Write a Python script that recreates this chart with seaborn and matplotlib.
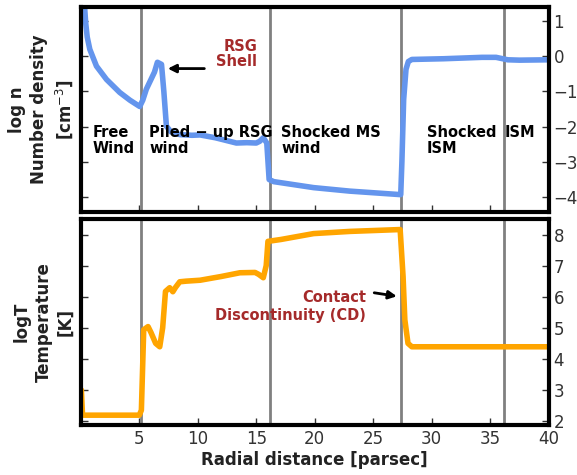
import matplotlib
matplotlib.use("Agg")
import matplotlib.pyplot as plt
import seaborn as sns
import pandas as pd

# Number density (log n) profile
dens_r = [0.2, 0.34, 0.42, 0.55, 0.77, 1.34, 2.2, 3.33, 4.2, 5.04, 5.3, 5.6, 6.0, 6.3, 6.55, 6.9,
          7.1, 7.32, 7.7, 8.46, 9.5, 10.2, 11.5, 13.3, 14.2, 15.0, 15.3, 15.6, 15.9, 16.1, 16.5,
          17.1, 19.9, 23.0, 27.35, 27.45, 27.6, 27.8, 28.0, 28.3, 31.0, 34.3, 35.5, 36.5, 37.5, 40.0]
dens_v = [1.6, 1.34, 0.95, 0.55, 0.2, -0.28, -0.66, -1.03, -1.25, -1.43, -1.25, -0.94, -0.66,
          -0.45, -0.17, -0.23, -1.0, -1.99, -2.15, -2.23, -2.25, -2.24, -2.32, -2.47, -2.46, -2.47,
          -2.42, -2.32, -2.47, -3.51, -3.57, -3.6, -3.74, -3.84, -3.94, -3.0, -1.23, -0.37, -0.15,
          -0.09, -0.07, -0.03, -0.03, -0.1, -0.11, -0.1]

# Temperature (log T) profile
temp_r = [0.05, 0.15, 1.0, 3.0, 5.0, 5.18, 5.38, 5.75, 6.0, 6.4, 6.75, 7.0, 7.24, 7.6, 7.87, 8.1,
          8.46, 9.0, 10.2, 12.0, 13.6, 14.9, 15.2, 15.6, 15.85, 16.0, 17.1, 19.9, 23.0, 27.3,
          27.55, 27.7, 27.97, 28.3, 33.0, 40.0]
temp_v = [3.0, 2.19, 2.19, 2.19, 2.19, 2.35, 4.94, 5.04, 4.85, 4.5, 4.39, 5.0, 6.17, 6.29, 6.16,
          6.3, 6.48, 6.5, 6.53, 6.65, 6.77, 6.78, 6.72, 6.61, 7.0, 7.78, 7.84, 8.03, 8.1, 8.16,
          6.65, 5.26, 4.5, 4.39, 4.39, 4.39]

boundaries = [5.13, 16.2, 27.4, 36.2]
x_ticks = [5, 10, 15, 20, 25, 30, 35, 40]
dens_ticks = [1, 0, -1, -2, -3, -4]
temp_ticks = [8, 7, 6, 5, 4, 3, 2]

region_labels = ["Free\nWind", "Piled \u2212 up RSG\nwind", "Shocked MS\nwind", "Shocked\nISM", "ISM"]
region_x = [1.0, 5.85, 17.15, 29.6, 36.25]

sns.set_style("ticks")
plt.rcParams["font.family"] = ["DejaVu Sans"]

fig = plt.figure(figsize=(5.77, 4.75), dpi=100)
ax1 = fig.add_axes([0.140, 0.554, 0.811, 0.431])
ax2 = fig.add_axes([0.140, 0.105, 0.811, 0.434])

df_d = pd.DataFrame({"r": dens_r, "v": dens_v})
df_t = pd.DataFrame({"r": temp_r, "v": temp_v})

for b in boundaries:
    ax1.axvline(b, color="grey", lw=2, zorder=1)
    ax2.axvline(b, color="grey", lw=2, zorder=1)

sns.lineplot(data=df_d, x="r", y="v", ax=ax1, color="cornflowerblue", lw=4, zorder=2)
sns.lineplot(data=df_t, x="r", y="v", ax=ax2, color="orange", lw=4, zorder=2)

ax1.set_xlim(0, 40)
ax2.set_xlim(0, 40)
ax1.set_ylim(-4.43, 1.4)
ax2.set_ylim(1.87, 8.5)

for ax, yt in ((ax1, dens_ticks), (ax2, temp_ticks)):
    ax.set_xticks(x_ticks)
    ax.set_yticks(yt)
    ax.tick_params(direction="in", top=False, right=True, left=True, bottom=True,
                   labelleft=False, labelright=True, labelsize=12, length=5, width=1,
                   colors="#333333")
    for s in ax.spines.values():
        s.set_linewidth(3)
        s.set_color("black")
        s.set_visible(True)
ax1.tick_params(labelbottom=False)

ax1.set_xlabel("")
ax1.set_ylabel("log n\nNumber density\n[cm$^{-3}$]", fontsize=12, fontweight="bold",
               color="#222222", linespacing=1.3)
ax2.set_ylabel("logT\nTemperature\n[K]", fontsize=12, fontweight="bold", color="#222222",
               linespacing=1.3)
ax2.set_xlabel("Radial distance [parsec]", fontsize=12, fontweight="bold", color="#222222", labelpad=2)
ax1.yaxis.set_label_coords(-0.013, 0.5)
ax2.yaxis.set_label_coords(-0.013, 0.5)

for lab, xx in zip(region_labels, region_x):
    ax1.text(xx, -1.95, lab, fontsize=10.5, fontweight="bold", va="top", ha="left",
             color="black", linespacing=1.1, zorder=3)

brown = "#a52a2a"
ax1.annotate("", xy=(7.2, -0.35), xytext=(10.8, -0.35),
             arrowprops=dict(arrowstyle="-|>", color="black", lw=2, mutation_scale=12))
ax1.text(15.1, 0.07, "RSG\nShell", fontsize=10.5, fontweight="bold", color=brown,
         ha="right", va="center", linespacing=1.0)

ax2.annotate("", xy=(27.25, 6.0), xytext=(24.85, 6.14),
             arrowprops=dict(arrowstyle="-|>", color="black", lw=2, mutation_scale=12))
ax2.text(24.4, 5.68, "Contact\nDiscontinuity (CD)", fontsize=10.5, fontweight="bold", color=brown,
         ha="right", va="center", linespacing=1.2, zorder=3)

fig.savefig("out.png", dpi=100)
